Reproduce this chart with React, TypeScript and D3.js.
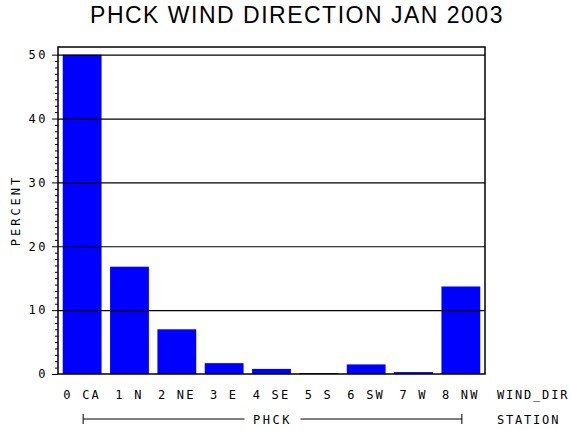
import React, { useEffect, useRef } from 'react';
import * as d3 from 'd3';

const WIDTH = 570;
const HEIGHT = 430;

const margin = { l: 58, r: 85, t: 47, b: 56 };

const categories = ['0 CA', '1 N', '2 NE', '3 E', '4 SE', '5 S', '6 SW', '7 W', '8 NW'];
const percents = [50, 16.8, 7.0, 1.7, 0.8, 0.15, 1.5, 0.3, 13.7];
const yTicks = [0, 10, 20, 30, 40, 50];

const title = 'PHCK WIND DIRECTION JAN 2003';
const station = 'PHCK';

const labelFont = '"DejaVu Sans Mono", monospace';

const App = () => {
  const widthMap = WIDTH - margin.l - margin.r;
  const heightMap = HEIGHT - margin.t - margin.b;

  const xScale = d3
    .scaleBand()
    .domain(categories)
    .range([0, widthMap])
    .paddingInner(0.18)
    .paddingOuter(0.1);

  // 0 sits on the bottom frame, 50 lands a few px under the top frame
  const yScale = d3.scaleLinear().domain([0, 51.2]).range([heightMap, 0]);

  const $yaxis = useRef<SVGGElement>(null);
  const $minor = useRef<SVGGElement>(null);
  const $grid = useRef<SVGGElement>(null);

  useEffect(() => {
    const yAxis = d3
      .axisLeft(yScale)
      .tickValues(yTicks)
      .tickSize(6)
      .tickPadding(4)
      .tickFormat((d) => String(d));
    const g = d3.select($yaxis.current);
    g.call(yAxis as any);
    g.select('.domain').remove();
    g.selectAll('text')
      .attr('font-family', labelFont)
      .attr('font-size', 12)
      .attr('letter-spacing', 2.5)
      .attr('fill', '#000');
    g.selectAll('line').attr('stroke', '#000');

    const minorAxis = d3
      .axisLeft(yScale)
      .tickValues(d3.range(0, 51, 1).filter((v) => v % 10 !== 0))
      .tickSize(3)
      .tickFormat('' as any);
    const m = d3.select($minor.current);
    m.call(minorAxis as any);
    m.select('.domain').remove();
    m.selectAll('line').attr('stroke', '#000');

    const gridAxis = d3
      .axisLeft(yScale)
      .tickValues(yTicks.filter((v) => v > 0))
      .tickSize(-widthMap)
      .tickFormat('' as any);
    const gr = d3.select($grid.current);
    gr.call(gridAxis as any);
    gr.select('.domain').remove();
    gr.selectAll('line').attr('stroke', '#000').attr('stroke-width', 1.2);
  }, [yScale, widthMap]);

  const center = (c: string) => (xScale(c) as number) + xScale.bandwidth() / 2;
  const bx0 = center(categories[0]) + 1;
  const bx1 = center(categories[categories.length - 1]) + 1;
  const bracketY = heightMap + 45;
  const bMid = (bx0 + bx1) / 2;

  return (
    <svg
      width={WIDTH}
      height={HEIGHT}
      style={{ display: 'block', position: 'fixed', left: 0, top: 0 }}
    >
      <rect width={WIDTH} height={HEIGHT} fill="#fff" />
      <text
        x={297}
        y={23}
        textAnchor="middle"
        fontFamily='"Liberation Sans", Arial, sans-serif'
        fontSize={23}
        letterSpacing={1.5}
        fill="#000"
      >
        {title}
      </text>
      <g transform={`translate(${margin.l}, ${margin.t})`}>
        {percents.map((v, i) => (
          <rect
            key={categories[i]}
            x={xScale(categories[i])}
            y={yScale(v)}
            width={xScale.bandwidth()}
            height={heightMap - yScale(v)}
            fill="#0000ff"
          />
        ))}
        <g ref={$grid} />
        <rect
          x={0}
          y={0}
          width={widthMap}
          height={heightMap}
          fill="none"
          stroke="#000"
          strokeWidth={1.5}
        />
        <g ref={$minor} />
        <g ref={$yaxis} />
        <text
          transform={`translate(${-38}, ${heightMap / 2}) rotate(-90)`}
          textAnchor="middle"
          fontFamily={labelFont}
          fontSize={12}
          letterSpacing={3}
          fill="#000"
        >
          PERCENT
        </text>
        {categories.map((c) => (
          <text
            key={c}
            x={center(c)}
            y={heightMap + 25}
            textAnchor="middle"
            fontFamily={labelFont}
            fontSize={12}
            letterSpacing={2.2}
            fill="#000"
          >
            {c.replace(' ', '\u00a0')}
          </text>
        ))}
        <text
          x={widthMap + 12}
          y={heightMap + 25}
          fontFamily={labelFont}
          fontSize={12}
          letterSpacing={1.8}
          fill="#000"
        >
          WIND_DIR
        </text>
        <line x1={bx0} x2={bx1} y1={bracketY} y2={bracketY} stroke="#000" />
        <line x1={bx0} x2={bx0} y1={bracketY - 5} y2={bracketY + 5} stroke="#000" />
        <line x1={bx1} x2={bx1} y1={bracketY - 5} y2={bracketY + 5} stroke="#000" />
        <rect x={bMid - 28} y={bracketY - 8} width={56} height={16} fill="#fff" />
        <text
          x={bMid}
          y={bracketY + 5}
          textAnchor="middle"
          fontFamily={labelFont}
          fontSize={12}
          letterSpacing={2.5}
          fill="#000"
        >
          {station}
        </text>
        <text
          x={widthMap + 12}
          y={bracketY + 5}
          fontFamily={labelFont}
          fontSize={12}
          letterSpacing={1.8}
          fill="#000"
        >
          STATION
        </text>
      </g>
    </svg>
  );
};

export default App;
